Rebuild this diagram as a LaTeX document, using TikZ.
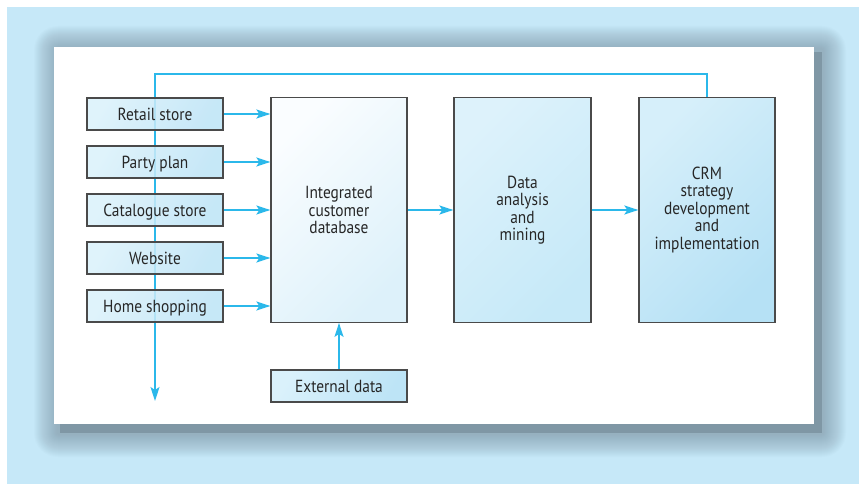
\documentclass[tikz,border=0pt]{standalone}
\usepackage{fontspec}
\setmainfont{PT Sans}[FakeStretch=0.88]
\usetikzlibrary{arrows.meta}
\pgfdeclarelayer{back}
\pgfdeclarelayer{under}
\pgfsetlayers{back,under,main}
\definecolor{bgblue}{HTML}{C6E8F8}
\definecolor{shad}{HTML}{7F97A5}
\definecolor{conn}{HTML}{2BB8EA}
\definecolor{edge}{HTML}{4A4A4A}
\definecolor{txt}{HTML}{262626}
\definecolor{srcL}{HTML}{DAF1FB}
\definecolor{srcR}{HTML}{BDE4F6}
\definecolor{damL}{HTML}{DDF2FB}
\definecolor{damR}{HTML}{C6E9F8}
\definecolor{crmL}{HTML}{D6EFFA}
\definecolor{crmR}{HTML}{B6E1F5}
\definecolor{icdL}{HTML}{FAFDFF}
\definecolor{icdR}{HTML}{DDF1FA}
\tikzset{
  box/.style={draw=edge, line width=1.3pt, font=\fontsize{17.5}{17.5}\selectfont, text=txt, align=center, inner sep=0pt},
  srcbox/.style={box, minimum width=136pt, minimum height=32pt, text height=12.3pt, text depth=0pt, top color=srcL, bottom color=srcR, shading angle=60, fill opacity=0.85, text opacity=1},
  bigbox/.style={box, minimum width=136pt, minimum height=224.5pt},
  cline/.style={draw=conn, line width=1.4pt},
  carrow/.style={cline, -{Stealth[length=14pt,width=9pt,inset=3pt]}},
}
\begin{document}
\begin{tikzpicture}[x=1pt,y=-1pt]
\useasboundingbox (0,0) rectangle (859,484);
\begin{pgfonlayer}{back}
\fill[white] (0,0) rectangle (859,484);
\fill[bgblue] (7,7) rectangle (859,484);
\foreach \k in {24,23,...,1}{
  \fill[shad, fill opacity=0.034, rounded corners=\k pt] (58-\k,50-\k) rectangle (822+\k,433+\k);
}
\fill[shad] (60,52) rectangle (822,433);
\fill[white] (54,47) rectangle (814,424);
\end{pgfonlayer}
% boxes
\node[srcbox] (retail) at (155,114) {Retail store};
\node[srcbox] (party) at (155,162) {Party plan};
\node[srcbox] (cat) at (155,210) {Catalogue store};
\node[srcbox] (web) at (155,258) {Website};
\node[srcbox] (home) at (155,306) {Home shopping};
\node[bigbox, top color=icdL, bottom color=icdR, shading angle=45] (icd) at (339,210) {Integrated\\customer\\database};
\node[srcbox, fill opacity=1] (ext) at (339,386) {External data};
\node[bigbox, minimum width=137pt, top color=damL, bottom color=damR, shading angle=45] (dam) at (522.5,210) {Data\\analysis\\and\\mining};
\node[bigbox, top color=crmL, bottom color=crmR, shading angle=45] (crm) at (707,210) {CRM\\strategy\\development\\and\\implementation};
% feedback line (under the translucent boxes)
\coordinate (tl) at (155,74);
\coordinate (out) at (155,401);
\begin{pgfonlayer}{under}
\draw[carrow] (crm.north) |- (tl) -- (out);
\end{pgfonlayer}
% connectors
\foreach \s in {retail,party,cat,web,home}{
  \draw[carrow] (\s.east) -- (\s.east -| icd.west);
}
\draw[carrow] (icd.east) -- (dam.west);
\draw[carrow] (dam.east) -- (crm.west);
\draw[carrow] (ext.north) -- (icd.south);
\end{tikzpicture}
\end{document}
